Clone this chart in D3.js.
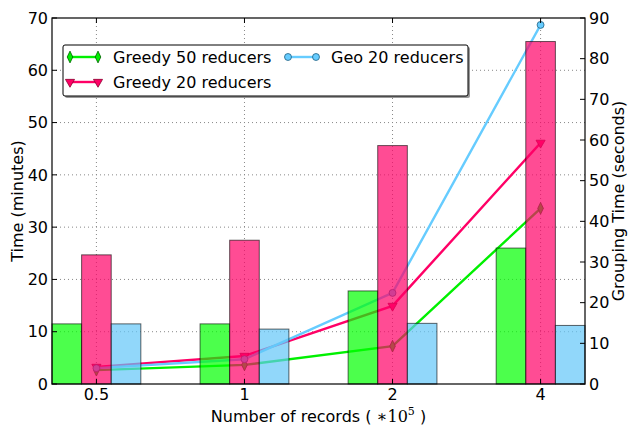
<!DOCTYPE html>
<html>
<head>
<meta charset="utf-8">
<script src="https://cdn.jsdelivr.net/npm/d3@7/dist/d3.min.js"></script>
<style>
  html, body { margin: 0; padding: 0; background: #fff; }
  svg { display: block; font-family: "DejaVu Sans", sans-serif; }
</style>
</head>
<body>
<svg id="chart" width="628" height="428"></svg>
<script>
// ---- data ----
const categories = ["0.5", "1", "2", "4"];
// bars: total time (minutes), left axis
const greedy50Time = [11.5, 11.5, 17.8, 26.0];
const greedy20Time = [24.7, 27.5, 45.6, 65.5];
const geo20Time    = [11.5, 10.5, 11.6, 11.2];
// lines: grouping time (seconds), right axis
const greedy50Grouping = [3.4, 4.7, 9.3, 43.2];
const greedy20Grouping = [4.2, 6.9, 19.2, 59.3];
const geo20Grouping    = [3.9, 6.1, 22.4, 88.3];
const leftTicks  = [0, 10, 20, 30, 40, 50, 60, 70];
const rightTicks = [0, 10, 20, 30, 40, 50, 60, 70, 80, 90];
const seriesNames = ["Greedy 50 reducers", "Greedy 20 reducers", "Geo 20 reducers"];

// ---- layout ----
const svg = d3.select("#chart");
const L = 52, R = 585, T = 18, B = 384;
const FS = 16;

const x = d3.scaleLinear().domain([-0.3, 3.3]).range([L, R]);
const yL = d3.scaleLinear().domain([0, 70]).range([B, T]);
const yR = d3.scaleLinear().domain([0, 90]).range([B, T]);

const barColors  = ["#00ff00", "#ff0066", "#62c6f8"];
const lineColors = ["#00f000", "#ff0066", "#66ccff"];
const edgeColors = ["#006600", "#8b0030", "#1f5f80"];
const barSeries = [greedy50Time, greedy20Time, geo20Time];
const lineSeries = [greedy50Grouping, greedy20Grouping, geo20Grouping];
const markers = [d3.symbolDiamond, d3.symbolTriangle, d3.symbolCircle];
const markerSizes = [30, 36, 38];
const markerRot = [0, 180, 0];
const markerScale = ["scale(0.95,1.15)", "", ""];
const barW = 0.2;

// grid
const grid = svg.append("g");
grid.selectAll("line.h").data(leftTicks.slice(1, -1)).join("line")
  .attr("x1", L).attr("x2", R)
  .attr("y1", d => yL(d)).attr("y2", d => yL(d))
  .attr("stroke", "#888").attr("stroke-width", 1).attr("stroke-dasharray", "1,3");
grid.selectAll("line.v").data(categories).join("line")
  .attr("x1", (d, i) => x(i)).attr("x2", (d, i) => x(i))
  .attr("y1", T).attr("y2", B)
  .attr("stroke", "#888").attr("stroke-width", 1).attr("stroke-dasharray", "1,3");

// lines (under bars)
const lineGen = d3.line().x((d, i) => x(i)).y(d => yR(d));
lineSeries.forEach((s, k) => {
  svg.append("path").datum(s).attr("d", lineGen)
    .attr("fill", "none").attr("stroke", lineColors[k]).attr("stroke-width", 2.4);
  svg.append("g").selectAll("path").data(s).join("path")
    .attr("d", d3.symbol().type(markers[k]).size(markerSizes[k]))
    .attr("transform", (d, i) => `translate(${x(i)},${yR(d)}) rotate(${markerRot[k]}) ${markerScale[k]}`)
    .attr("fill", lineColors[k]).attr("stroke", edgeColors[k]).attr("stroke-width", 0.8);
});

// bars
barSeries.forEach((s, k) => {
  svg.append("g").selectAll("rect").data(s).join("rect")
    .attr("x", (d, i) => x(i - 0.3 + k * barW))
    .attr("width", x(barW) - x(0))
    .attr("y", d => yL(d))
    .attr("height", d => B - yL(d))
    .attr("fill", barColors[k]).attr("fill-opacity", 0.7)
    .attr("stroke", "#000").attr("stroke-opacity", 0.6).attr("stroke-width", 1);
});

// frame
svg.append("rect").attr("x", L).attr("y", T).attr("width", R - L).attr("height", B - T)
  .attr("fill", "none").attr("stroke", "#000").attr("stroke-width", 1.2);

// ticks
const tk = svg.append("g").attr("stroke", "#000").attr("stroke-width", 1);
leftTicks.forEach(t => tk.append("line").attr("x1", L).attr("x2", L + 5).attr("y1", yL(t)).attr("y2", yL(t)));
rightTicks.forEach(t => tk.append("line").attr("x1", R).attr("x2", R - 5).attr("y1", yR(t)).attr("y2", yR(t)));
categories.forEach((c, i) => {
  tk.append("line").attr("x1", x(i)).attr("x2", x(i)).attr("y1", B).attr("y2", B - 5);
  tk.append("line").attr("x1", x(i)).attr("x2", x(i)).attr("y1", T).attr("y2", T + 5);
});

// tick labels
svg.append("g").selectAll("text").data(leftTicks).join("text")
  .attr("x", L - 4).attr("y", d => yL(d)).attr("dy", "0.36em")
  .attr("text-anchor", "end").attr("font-size", FS).text(d => d);
svg.append("g").selectAll("text").data(rightTicks).join("text")
  .attr("x", R + 4).attr("y", d => yR(d)).attr("dy", "0.36em")
  .attr("text-anchor", "start").attr("font-size", FS).text(d => d);
svg.append("g").selectAll("text").data(categories).join("text")
  .attr("x", (d, i) => x(i)).attr("y", B + 16)
  .attr("text-anchor", "middle").attr("font-size", FS).text(d => d);

// axis labels
const xl = svg.append("text").attr("x", (L + R) / 2).attr("y", 422)
  .attr("text-anchor", "middle").attr("font-size", FS);
xl.append("tspan").text("Number of records (");
xl.append("tspan").attr("font-family", "DejaVu Serif").attr("font-style", "italic").text(" \u2217");
xl.append("tspan").attr("font-family", "DejaVu Serif").text("10");
xl.append("tspan").attr("font-family", "DejaVu Serif").attr("font-size", 11).attr("dy", -7).text("5");
xl.append("tspan").attr("dy", 7).text(" )");

svg.append("text").attr("transform", `translate(23,${(T + B) / 2}) rotate(-90)`)
  .attr("text-anchor", "middle").attr("font-size", FS).text("Time (minutes)");
svg.append("text").attr("transform", `translate(624,${(T + B) / 2}) rotate(-90)`)
  .attr("text-anchor", "middle").attr("font-size", FS).text("Grouping Time (seconds)");

// legend
const lg = svg.append("g");
lg.append("rect").attr("x", 65).attr("y", 47).attr("width", 405).attr("height", 51)
  .attr("rx", 2).attr("fill", "#999");
lg.append("rect").attr("x", 63).attr("y", 45).attr("width", 405).attr("height", 51)
  .attr("rx", 2).attr("fill", "#fff").attr("stroke", "#000").attr("stroke-width", 1);
const legPos = [[70, 57], [70, 82], [288, 57]];
seriesNames.forEach((name, k) => {
  const [lx, ly] = legPos[k];
  lg.append("line").attr("x1", lx).attr("x2", lx + 28).attr("y1", ly).attr("y2", ly)
    .attr("stroke", lineColors[k]).attr("stroke-width", 2.4);
  [lx, lx + 28].forEach(px => {
    lg.append("path").attr("d", d3.symbol().type(markers[k]).size(markerSizes[k]))
      .attr("transform", `translate(${px},${ly}) rotate(${markerRot[k]}) ${markerScale[k]}`)
      .attr("fill", lineColors[k]).attr("stroke", edgeColors[k]).attr("stroke-width", 0.8);
  });
  lg.append("text").attr("x", lx + 43).attr("y", ly).attr("dy", "0.36em")
    .attr("font-size", FS).text(name);
});
</script>
</body>
</html>
